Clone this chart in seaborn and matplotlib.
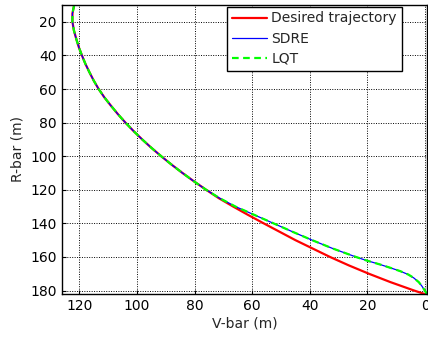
import numpy as np
import pandas as pd
import matplotlib
matplotlib.use("Agg")
import matplotlib.pyplot as plt
import seaborn as sns

# Desired trajectory (V-bar, R-bar)
desired_v = [121.8, 122.4, 122.4, 121.9, 121.1, 120.2, 119.1, 117.9, 116.5, 115.0, 113.3,
             111.3, 109.0, 106.6, 104.0, 101.2, 98.2, 95.0, 91.6, 88.0, 84.2, 80.2, 76.0,
             71.6, 66.6, 61.4, 56.0, 50.5, 45.0, 39.0, 33.0, 26.5, 19.5, 12.0, 3.8, 0.3]
desired_r = [10, 15, 20, 25, 30, 35, 40, 45, 50, 55, 60,
             65, 70, 75, 80, 85, 90, 95, 100, 105, 110, 115, 120,
             125, 130, 135, 140, 145, 150, 155, 160, 165, 170, 175, 180, 182]

# SDRE and LQT (nearly identical)
sdre_v = [121.8, 122.4, 122.4, 121.9, 121.1, 120.2, 119.1, 117.9, 116.5, 115.0, 113.3,
          111.3, 109.0, 106.6, 104.0, 101.2, 98.2, 95.0, 91.6, 88.0, 84.2, 80.2, 76.0,
          71.3, 65.8, 59.2, 52.6, 46.0, 39.2, 32.0, 24.0, 20.5, 15.6, 12.0, 8.7, 5.8,
          4.0, 2.2, 1.1, 0.0, -0.6]
sdre_r = [10, 15, 20, 25, 30, 35, 40, 45, 50, 55, 60,
          65, 70, 75, 80, 85, 90, 95, 100, 105, 110, 115, 120,
          125, 130, 135, 140, 145, 150, 155, 160, 162, 164.5, 166.5, 168.4, 170.5,
          172.4, 175, 177.4, 180.3, 182]
lqt_v = list(sdre_v)
lqt_r = list(sdre_r)

sns.set_style("white")
plt.rcParams['font.family'] = ['DejaVu Sans']

fig = plt.figure(figsize=(4.28, 3.39), dpi=100)
ax = fig.add_axes([0.145, 0.133, 0.853, 0.852])

df_d = pd.DataFrame({"V": desired_v, "R": desired_r})
df_s = pd.DataFrame({"V": sdre_v, "R": sdre_r})
df_l = pd.DataFrame({"V": lqt_v, "R": lqt_r})

sns.lineplot(data=df_d, x="V", y="R", sort=False, estimator=None, ax=ax,
             color="#ff0000", linewidth=1.6, label="Desired trajectory")
sns.lineplot(data=df_s, x="V", y="R", sort=False, estimator=None, ax=ax,
             color="#0000ff", linewidth=0.9, label="SDRE")
sns.lineplot(data=df_l, x="V", y="R", sort=False, estimator=None, ax=ax,
             color="#00ff00", linewidth=1.6, linestyle=(0, (3, 2)), label="LQT")

ax.set_xlim(126, -0.7)
ax.set_ylim(182, 10)
ax.set_xticks([120, 100, 80, 60, 40, 20, 0])
ax.set_yticks([20, 40, 60, 80, 100, 120, 140, 160, 180])
ax.grid(True, color="black", linestyle=(0, (1, 1.5)), linewidth=0.7)
ax.tick_params(direction="in", length=3, labelsize=10, colors="black", pad=4,
               top=False, right=False, bottom=True, left=True)
for s in ax.spines.values():
    s.set_color("black")
    s.set_linewidth(1.0)
ax.set_xlabel("V-bar (m)", fontsize=10, labelpad=2)
ax.set_ylabel("R-bar (m)", fontsize=10, labelpad=4)

leg = ax.legend(loc="upper right", fontsize=10, frameon=True, fancybox=False,
                framealpha=1, edgecolor="black", borderpad=0.35, labelspacing=0.45,
                handlelength=2.5, handletextpad=0.3, borderaxespad=0.0,
                bbox_to_anchor=(0.93, 0.995))
leg.get_frame().set_linewidth(1.0)

fig.savefig("out.png", dpi=100)
